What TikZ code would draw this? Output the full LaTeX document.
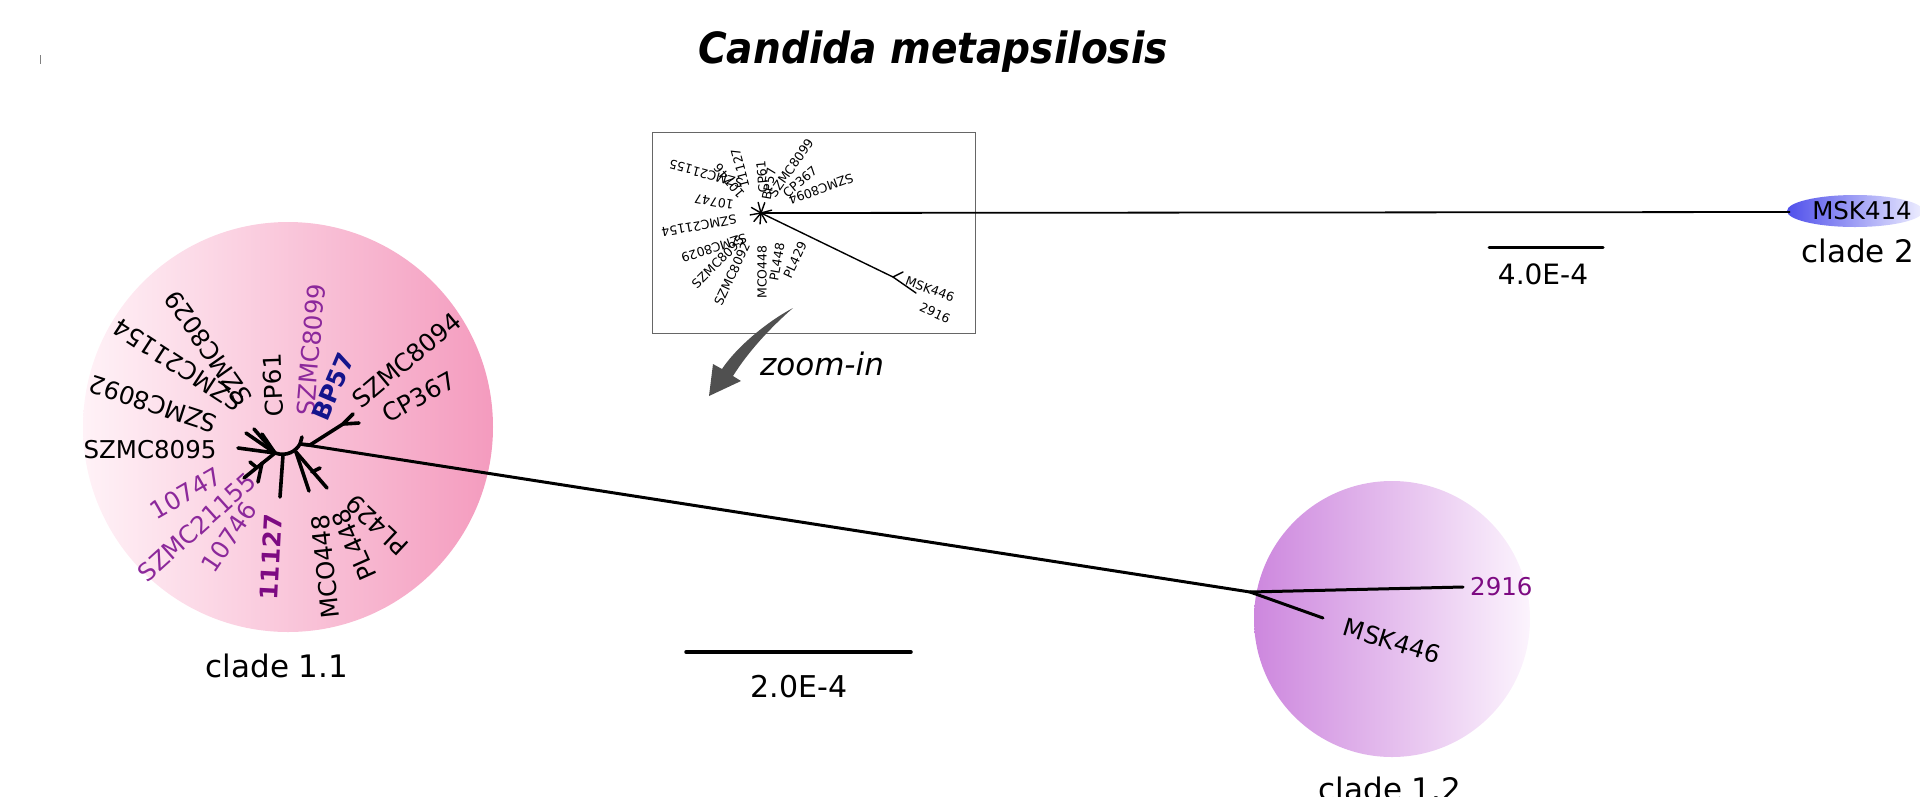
\documentclass[tikz,border=0pt]{standalone}
\usepackage{fontspec}
\setmainfont{DejaVu Sans}
\usetikzlibrary{calc}
\definecolor{purp}{RGB}{140,40,155}
\definecolor{dpurp}{RGB}{125,10,130}
\definecolor{navyb}{RGB}{20,20,140}
\definecolor{pinkL}{RGB}{255,242,247}
\definecolor{pinkR}{RGB}{244,155,190}
\definecolor{violL}{RGB}{205,135,222}
\definecolor{violR}{RGB}{252,244,253}
\definecolor{blueL}{RGB}{80,80,235}
\definecolor{blueR}{RGB}{238,238,255}
\definecolor{arrowg}{RGB}{80,80,80}
\begin{document}
\begin{tikzpicture}[x=1pt,y=-1pt,
  lab/.style={inner sep=0pt, font=\fontsize{24.5}{24.5}\selectfont},
  slab/.style={inner sep=0pt, font=\fontsize{12.5}{12.5}\selectfont},
  br/.style={line width=3.6pt, line cap=round, line join=round},
  sbr/.style={line width=1.4pt, line cap=round},
  clab/.style={inner sep=0pt, anchor=base, font=\fontsize{31}{31}\selectfont},
  sbar/.style={line width=3.5pt, line cap=round}]
\useasboundingbox (0,0) rectangle (1920,796);
% title
\node[inner sep=0pt, anchor=base, font=\fontsize{43}{43}\selectfont\bfseries\itshape] (title) at (933,63) {\scalebox{0.91}[1]{Candida metapsilosis}};
\draw[gray, line width=0.8pt] (40,55) coordinate (tk1) -- (40,64) coordinate (tk2);
% clade circles
\shade[left color=pinkL, right color=pinkR] (288,427) circle (205pt);
\shade[left color=violL, right color=violR] (1392,619) circle (138pt);
\shade[left color=blueL, right color=blueR] (1855,211) ellipse [x radius=68pt, y radius=16pt];
% inset box
\node[draw=gray!80!black, line width=1.3pt, minimum width=323pt, minimum height=201pt, inner sep=0pt, anchor=north west] (inset) at (652,132) {};
% ---------- main tree ----------
\coordinate (cL) at (275,453);
\coordinate (cR) at (300,444);
\coordinate (J) at (1250,592);
\coordinate (t8095) at (238,448);
\coordinate (tul1) at (246,433);
\coordinate (tul2) at (254,429);
\coordinate (tul3) at (262,434);
\coordinate (tll) at (244,478);
\coordinate (tll2) at (258,482);
\coordinate (mll) at (262,463);
\coordinate (mll2) at (256,467);
\coordinate (tll3) at (250,462);
\coordinate (d1) at (283,455);
\coordinate (t11127) at (280,497);
\coordinate (rl0) at (296,452);
\coordinate (trl1) at (327,488);
\coordinate (trl2) at (309,491);
\coordinate (mrl) at (312,472);
\coordinate (trl3) at (320,468);
\coordinate (ur0) at (310,445);
\coordinate (ur1) at (343,424);
\coordinate (tur1) at (353,414);
\coordinate (tur2) at (359,423);
\coordinate (nub) at (302,437);
\draw[br] (t8095) -- (cL);
\draw[br] (tul1) -- (cL);
\draw[br] (tul2) -- (cL);
\draw[br] (tul3) -- (cL);
\draw[br] (tll) -- (cL);
\draw[br] (mll) -- (tll2);
\draw[br] (mll2) -- (tll3);
\draw[br] (d1) -- (t11127);
\draw[br] (rl0) -- (trl1);
\draw[br] (rl0) -- (trl2);
\draw[br] (mrl) -- (trl3);
\draw[br] (cL) .. controls (287,457) and (296,451) .. (cR);
\draw[br] (cR) -- (nub);
\draw[br] (cR) -- (ur0) -- (ur1) -- (tur1);
\draw[br] (ur1) -- (tur2);
\draw[line width=3pt, line cap=round] (cR) -- (J);
\coordinate (t2916) at (1463,587);
\coordinate (t446) at (1323,618);
\draw[line width=3pt, line cap=round] (J) -- (t2916);
\draw[line width=3pt, line cap=round] (J) -- (t446);
% main labels
\node[lab] (n8095) at (150,450) {SZMC8095};
\node[lab, rotate=162] (n8092) at (153,404) {SZMC8092};
\node[lab, rotate=147] (n21154) at (178,365) {SZMC21154};
\node[lab, rotate=125] (n8029) at (208,348) {SZMC8029};
\node[lab, rotate=92] (ncp61) at (273,385) {CP61};
\node[lab, rotate=85, text=purp] (n8099) at (311,350) {SZMC8099};
\node[lab, rotate=67, text=navyb, font=\fontsize{24.5}{24.5}\selectfont\bfseries] (nbp57) at (333,387) {BP57};
\node[lab, rotate=40] (n8094) at (407,360) {SZMC8094};
\node[lab, rotate=29] (ncp367) at (419,397) {CP367};
\node[lab, rotate=137] (npl429) at (377,525) {PL429};
\node[lab, rotate=114] (npl448) at (354,545) {PL448};
\node[lab, rotate=96] (nmco) at (325,567) {MCO448};
\node[lab, rotate=87, text=dpurp, font=\fontsize{24.5}{24.5}\selectfont\bfseries] (n11127) at (271,557) {11127};
\node[lab, rotate=56, text=purp] (n10746) at (229,537) {10746};
\node[lab, rotate=42, text=purp] (n21155) at (197,527) {SZMC21155};
\node[lab, rotate=30, text=purp] (n10747) at (186,493) {10747};
\node[lab, text=dpurp, anchor=west] (n2916) at (1470,587) {2916};
\node[lab, rotate=-17] (n446) at (1392,641) {MSK446};
\node[lab] (n414) at (1862,211) {MSK414};
% clade labels
\node[clab] (c11) at (277,677) {clade 1.1};
\node[clab] (c12) at (1390,800) {clade 1.2};
\node[clab] (c2) at (1858,262) {clade 2};
% scale bars
\coordinate (sa1) at (686,652); \coordinate (sa2) at (911,652);
\draw[sbar] (sa1) -- (sa2);
\node[inner sep=0pt, anchor=base, font=\fontsize{30}{30}\selectfont] (sb1) at (799,697) {2.0E-4};
\coordinate (sc1) at (1489,247); \coordinate (sc2) at (1603,247);
\draw[line width=3pt, line cap=round] (sc1) -- (sc2);
\node[inner sep=0pt, anchor=base, font=\fontsize{28}{28}\selectfont] (sb2) at (1543,284) {4.0E-4};
% zoom arrow
\fill[arrowg] (793,308) .. controls (770,320) and (738,345) .. (722,369) -- (713,364) -- (709,396) -- (741,381) -- (733,376) .. controls (748,352) and (770,328) .. (793,308) -- cycle;
\node[inner sep=0pt, anchor=base, font=\fontsize{31}{31}\selectfont\itshape] (zoomin) at (822,375) {zoom-in};
% ---------- inset tree ----------
\coordinate (S) at (761,213);
\coordinate (E414) at (1790,212);
\draw[line width=1.8pt] (S) -- (E414);
\foreach \a in {15,70,105,150,190,230,265,300} {\draw[sbr] (S) -- ++(\a:11pt);}
\coordinate (F) at (893,277);
\coordinate (F2) at (903,272);
\coordinate (Fend) at (916,293);
\draw[sbr] (S) -- (F) -- (Fend);
\draw[sbr] (F) -- (F2);
\node[slab, rotate=165] (i21155) at (706,174) {SZMC21155};
\node[slab, rotate=130] (i10746) at (729,181) {10746};
\node[slab, rotate=105] (i11127) at (740,168) {11127};
\node[slab, rotate=170] (i10747) at (714,202) {10747};
\node[slab, rotate=190] (i21154) at (699,226) {SZMC21154};
\node[slab, rotate=198] (i8029) at (714,248) {SZMC8029};
\node[slab, rotate=45] (i8095) at (718,262) {SZMC8095};
\node[slab, rotate=65] (i8092) at (732,274) {SZMC8092};
\node[slab, rotate=90] (imco) at (762,272) {MCO448};
\node[slab, rotate=80] (ipl448) at (777,262) {PL448};
\node[slab, rotate=65] (ipl429) at (795,260) {PL429};
\node[slab, rotate=95] (icp61) at (762,177) {CP61};
\node[slab, rotate=80] (ibp57) at (769,184) {BP57};
\node[slab, rotate=55] (i8099) at (791,168) {SZMC8099};
\node[slab, rotate=40] (icp367) at (800,182) {CP367};
\node[slab, rotate=200] (i8094) at (821,189) {SZMC8094};
\node[slab, rotate=-20] (i446) at (930,289) {MSK446};
\node[slab, rotate=-25] (i2916) at (935,313) {2916};
\end{tikzpicture}
\end{document}
